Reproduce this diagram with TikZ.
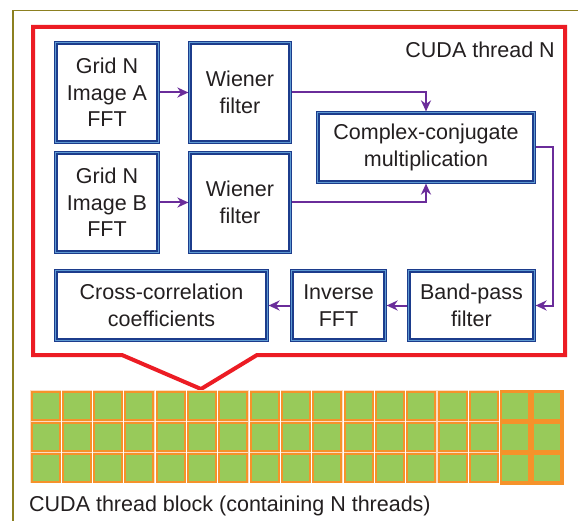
\documentclass[tikz,border=0pt]{standalone}
\usepackage{fontspec}
\setmainfont{Liberation Sans}
\usetikzlibrary{arrows.meta}

\definecolor{frameolive}{HTML}{8C8020}
\definecolor{threadred}{HTML}{EC1C24}
\definecolor{boxnavy}{HTML}{1C3C8C}
\definecolor{boxlight}{HTML}{5E9AD2}
\definecolor{flowpurple}{HTML}{6A2C9A}
\definecolor{cellgreen}{HTML}{98CA5A}
\definecolor{cellorange}{HTML}{F5922A}
\definecolor{cellglow}{HTML}{FCDCC4}
\definecolor{inktext}{HTML}{231F20}

\begin{document}
\begin{tikzpicture}[x=1pt,y=-1pt,
  stage/.style={draw=boxnavy, line width=3.2pt, fill=white, align=center,
    inner sep=0pt, text=inktext, font=\fontsize{21.5}{26.5}\selectfont},
  flow/.style={draw=flowpurple, line width=2pt,
    -{Stealth[length=11pt,width=10pt,inset=3.5pt]}},
  label/.style={text=inktext, inner sep=0pt, font=\fontsize{21.5}{26.5}\selectfont},
  cell/.style={draw=cellorange, line width=2pt, fill=cellgreen}]

\useasboundingbox (0,0) rectangle (578,521);
\fill[white] (0,0) rectangle (578,521);

% outer panel edge
\draw[frameolive, line width=1.6pt] (13,521) -- (13,10.5) -- (578,10.5);

% thread callout
\draw[threadred, line width=4pt, line join=miter]
  (33,27) -- (565,27) -- (565,355) -- (257,355) -- (201,389)
  -- (122,355) -- (33,355) -- cycle;
\node[label, anchor=base east] (threadlbl) at (555,58) {CUDA thread N};

% processing stages
\node[stage, minimum width=102pt, minimum height=99pt] (fftA) at (107,92.5) {Grid N\\Image A\\FFT};
\node[stage, minimum width=100pt, minimum height=99pt] (wienA) at (240,92.5) {Wiener\\filter};
\node[stage, minimum width=102pt, minimum height=99pt] (fftB) at (107,202.5) {Grid N\\Image B\\FFT};
\node[stage, minimum width=100pt, minimum height=99pt] (wienB) at (240,202.5) {Wiener\\filter};
\node[stage, minimum width=216pt, minimum height=69pt] (ccm) at (426,147.5) {Complex-conjugate\\multiplication};
\node[stage, minimum width=211pt, minimum height=69pt] (xcorr) at (161.5,305.5) {Cross-correlation\\coefficients};
\node[stage, minimum width=93pt, minimum height=69pt] (ifft) at (338.5,305.5) {Inverse\\FFT};
\node[stage, minimum width=125pt, minimum height=69pt] (bpf) at (471.5,305.5) {Band-pass\\filter};

% lighter inner edge of each stage border
\foreach \n in {fftA,wienA,fftB,wienB,ccm,xcorr,ifft,bpf}
  \draw[boxlight, line width=1pt]
    ([shift={(1.3pt,-1.3pt)}]\n.north west) rectangle ([shift={(-1.3pt,1.3pt)}]\n.south east);

% data flow
\coordinate (turn) at (553,147.5);
\draw[flow] (fftA) -- (wienA);
\draw[flow] (fftB) -- (wienB);
\draw[flow] (wienA.east) -| (ccm.north);
\draw[flow] (wienB.east) -| (ccm.south);
\draw[flow] (ccm.east) -- (turn) |- (bpf.east);
\draw[flow] (bpf) -- (ifft);
\draw[flow] (ifft) -- (xcorr);

% thread block grid: soft halo, shaded last two columns, then the cells
\foreach \j in {0,1,2} {
  \foreach \i in {0,...,16} {
    \pgfmathsetmacro{\cx}{31+\i*31.33}
    \pgfmathsetmacro{\cy}{391+\j*31}
    \fill[cellglow] (\cx-0.8,\cy-0.8) rectangle (\cx+29.8,\cy+29.8);
  }
}
\fill[cellorange] (499.5,389.5) rectangle (563.5,485);
\foreach \j in {0,1,2} {
  \foreach \i in {0,...,16} {
    \pgfmathsetmacro{\cx}{31+\i*31.33}
    \pgfmathsetmacro{\cy}{391+\j*31}
    \draw[cell] (\cx+0.5,\cy+0.5) rectangle (\cx+28.5,\cy+28.5);
  }
}
\node[label, anchor=base west] (blocklbl) at (29,511) {CUDA thread block (containing N threads)};
\end{tikzpicture}
\end{document}
